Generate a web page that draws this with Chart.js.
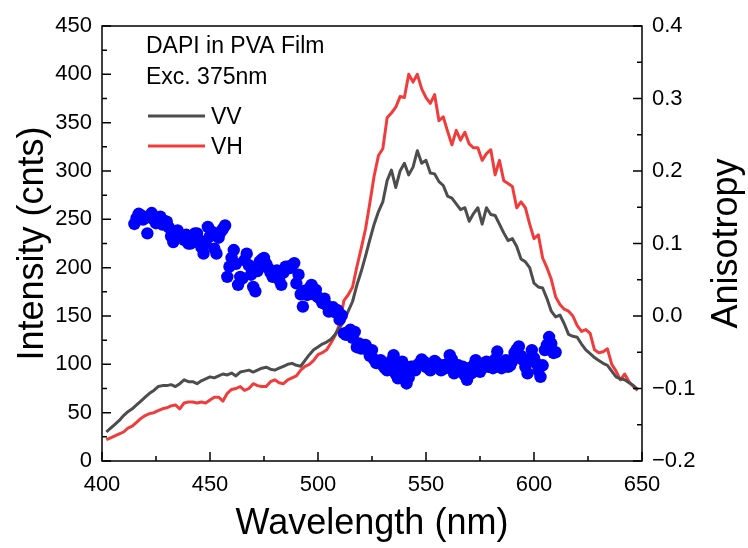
<!DOCTYPE html>
<html>
<head>
<meta charset="utf-8">
<script src="https://cdn.jsdelivr.net/npm/chart.js@4.4.1/dist/chart.umd.min.js"></script>
<style>
  html, body { margin: 0; padding: 0; background: #fff; }
  #chart { display: block; }
</style>
</head>
<body>
<canvas id="chart" width="748" height="548"></canvas>
<script>
// emission spectra (nm, counts)
const wavelength = [
  402, 404, 406, 408, 410, 412, 414, 416, 418, 420,
  422, 424, 426, 428, 430, 432, 434, 436, 438, 440,
  442, 444, 446, 448, 450, 452, 454, 456, 458, 460,
  462, 464, 466, 468, 470, 472, 474, 476, 478, 480,
  482, 484, 486, 488, 490, 492, 494, 496, 498, 500,
  502, 504, 506, 508, 510, 512, 514, 516, 518, 520,
  522, 524, 526, 528, 530, 532, 534, 536, 538, 540,
  542, 544, 546, 548, 550, 552, 554, 556, 558, 560,
  562, 564, 566, 568, 570, 572, 574, 576, 578, 580,
  582, 584, 586, 588, 590, 592, 594, 596, 598, 600,
  602, 604, 606, 608, 610, 612, 614, 616, 618, 620,
  622, 624, 626, 628, 630, 632, 634, 636, 638, 640,
  642, 644, 646, 648
];
const vv = [
  30, 34, 38, 42, 47, 51, 54, 58, 62, 66,
  70, 73, 77, 78, 78, 79, 77, 80, 84, 82,
  82, 80, 83, 85, 87, 86, 88, 90, 89, 91,
  88, 92, 93, 94, 92, 94, 96, 97, 95, 94,
  96, 98, 100, 101, 99, 98, 104, 110, 115, 118,
  121, 123, 126, 131, 138, 145, 155, 165, 182, 196,
  212, 229, 245, 258, 268, 290, 301, 283, 300, 308,
  296, 304, 321, 308, 311, 298, 297, 289, 285, 274,
  272, 266, 260, 262, 248, 256, 262, 245, 262, 255,
  254, 245, 236, 228, 230, 222, 209, 206, 200, 184,
  180, 179, 168, 155, 149, 151, 142, 131, 129, 128,
  121, 115, 111, 107, 104, 101, 99, 93, 87, 85,
  84, 81, 78, 74
];
const vh = [
  22, 24, 26, 28, 30, 34, 36, 40, 44, 47,
  49, 50, 52, 54, 55, 57, 58, 54, 60, 61,
  61, 60, 61, 60, 63, 66, 66, 62, 70, 74,
  75, 77, 73, 75, 80, 78, 77, 77, 82, 84,
  81, 80, 84, 86, 88, 94, 98, 100, 104, 110,
  112, 115, 122, 130, 142, 166, 172, 180, 201, 220,
  240, 267, 295, 316, 323, 355, 360, 366, 377, 376,
  400, 392, 400, 385, 376, 370, 379, 352, 356, 341,
  327, 342, 332, 340, 328, 324, 324, 311, 318, 322,
  296, 311, 290, 287, 284, 262, 268, 262, 245, 230,
  234, 210, 200, 188, 170, 162, 157, 155, 150, 140,
  134, 136, 132, 115, 112, 113, 116, 100, 93, 84,
  90, 82, 77, 73
];

// anisotropy points (right axis), 1 nm apart
const anisoWl = [
  415, 416, 417, 418, 419, 420, 421, 422, 423, 424,
  425, 426, 427, 428, 429, 430, 431, 432, 433, 434,
  435, 436, 437, 438, 439, 440, 441, 442, 443, 444,
  445, 446, 447, 448, 449, 450, 451, 452, 453, 454,
  455, 456, 457, 458, 459, 460, 461, 462, 463, 464,
  465, 466, 467, 468, 469, 470, 471, 472, 473, 474,
  475, 476, 477, 478, 479, 480, 481, 482, 483, 484,
  485, 486, 487, 488, 489, 490, 491, 492, 493, 494,
  495, 496, 497, 498, 499, 500, 501, 502, 503, 504,
  505, 506, 507, 508, 509, 510, 511, 512, 513, 514,
  515, 516, 517, 518, 519, 520, 521, 522, 523, 524,
  525, 526, 527, 528, 529, 530, 531, 532, 533, 534,
  535, 536, 537, 538, 539, 540, 541, 542, 543, 544,
  545, 546, 547, 548, 549, 550, 551, 552, 553, 554,
  555, 556, 557, 558, 559, 560, 561, 562, 563, 564,
  565, 566, 567, 568, 569, 570, 571, 572, 573, 574,
  575, 576, 577, 578, 579, 580, 581, 582, 583, 584,
  585, 586, 587, 588, 589, 590, 591, 592, 593, 594,
  595, 596, 597, 598, 599, 600, 601, 602, 603, 604,
  605, 606, 607, 608, 609, 610
];
const aniso = [
  0.127, 0.135, 0.141, 0.139, 0.133, 0.135, 0.114, 0.138, 0.142, 0.133,
  0.128, 0.135, 0.137, 0.126, 0.131, 0.130, 0.122, 0.110, 0.102, 0.115,
  0.118, 0.112, 0.109, 0.105, 0.112, 0.100, 0.100, 0.108, 0.114, 0.114,
  0.105, 0.095, 0.086, 0.100, 0.123, 0.110, 0.116, 0.093, 0.086, 0.108,
  0.116, 0.120, 0.125, 0.054, 0.068, 0.080, 0.091, 0.072, 0.043, 0.054,
  0.052, 0.077, 0.086, 0.070, 0.057, 0.040, 0.034, 0.062, 0.075, 0.078,
  0.080, 0.072, 0.066, 0.060, 0.054, 0.058, 0.063, 0.050, 0.043, 0.060,
  0.068, 0.068, 0.066, 0.070, 0.073, 0.045, 0.057, 0.030, 0.013, 0.035,
  0.029, 0.038, 0.043, 0.030, 0.036, 0.026, 0.024, 0.018, 0.024, 0.015,
  0.006, 0.010, 0.012, 0.005, 0.008, -0.005, 0.001, -0.024, -0.026, -0.022,
  -0.019, -0.030, -0.022, -0.043, -0.038, -0.045, -0.040, -0.040, -0.047, -0.055,
  -0.047, -0.060, -0.065, -0.063, -0.061, -0.068, -0.072, -0.075, -0.070, -0.062,
  -0.054, -0.080, -0.086, -0.072, -0.063, -0.080, -0.093, -0.085, -0.070, -0.070,
  -0.075, -0.068, -0.065, -0.060, -0.063, -0.070, -0.072, -0.075, -0.068, -0.062,
  -0.065, -0.070, -0.075, -0.068, -0.072, -0.066, -0.054, -0.060, -0.079, -0.072,
  -0.068, -0.075, -0.070, -0.082, -0.088, -0.072, -0.079, -0.068, -0.061, -0.070,
  -0.077, -0.072, -0.065, -0.063, -0.070, -0.068, -0.072, -0.060, -0.049, -0.068,
  -0.072, -0.065, -0.061, -0.070, -0.068, -0.062, -0.051, -0.046, -0.042, -0.055,
  -0.061, -0.070, -0.079, -0.060, -0.047, -0.058, -0.065, -0.075, -0.084, -0.068,
  -0.047, -0.040, -0.029, -0.038, -0.051, -0.050
];

const xTicks = [400, 450, 500, 550, 600, 650];
const note = ['DAPI in PVA Film', 'Exc. 375nm'];

const FONT = 'Arial, "Liberation Sans", sans-serif';

function pairs(xs, ys) {
    return xs.map((x, i) => ({x: x, y: ys[i]}));
}

function fmtAniso(v) {
    if (Math.abs(v) < 1e-9) return '0.0';
    return v.toFixed(1).replace('-', '\u2212');
}

// frame, inward ticks, notes, legend and right title
const decor = {
    id: 'decor',
    afterDraw(chart) {
        const {ctx, chartArea: a, scales} = chart;
        ctx.save();
        ctx.strokeStyle = '#000';
        ctx.lineWidth = 1.5;
        ctx.strokeRect(a.left, a.top, a.right - a.left, a.bottom - a.top);

        ctx.beginPath();
        for (let v = 400; v <= 650; v += 25) {
            const px = scales.x.getPixelForValue(v);
            const len = v % 50 === 0 ? 9 : 5;
            ctx.moveTo(px, a.bottom);
            ctx.lineTo(px, a.bottom - len);
        }
        for (let v = 0; v <= 450; v += 25) {
            const py = scales.y.getPixelForValue(v);
            const len = v % 50 === 0 ? 9 : 5;
            ctx.moveTo(a.left, py);
            ctx.lineTo(a.left + len, py);
        }
        for (let i = 0; i <= 12; i++) {
            const py = scales.y1.getPixelForValue(-0.2 + i * 0.05);
            const len = i % 2 === 0 ? 9 : 5;
            ctx.moveTo(a.right, py);
            ctx.lineTo(a.right - len, py);
        }
        ctx.stroke();

        ctx.fillStyle = '#000';
        ctx.font = '23px ' + FONT;
        ctx.textAlign = 'left';
        ctx.textBaseline = 'alphabetic';
        ctx.fillText(note[0], 146, 53);
        ctx.fillText(note[1], 146, 84);

        const legendRows = [{ds: chart.data.datasets[0], y: 116}, {ds: chart.data.datasets[1], y: 146}];
        legendRows.forEach(r => {
            ctx.strokeStyle = r.ds.borderColor;
            ctx.lineWidth = 3;
            ctx.beginPath();
            ctx.moveTo(148, r.y);
            ctx.lineTo(205, r.y);
            ctx.stroke();
            ctx.fillStyle = '#000';
            ctx.fillText(r.ds.label, 211, r.y + 8);
        });

        ctx.translate(727, (a.top + a.bottom) / 2);
        ctx.rotate(-Math.PI / 2);
        ctx.textAlign = 'center';
        ctx.textBaseline = 'middle';
        ctx.font = '36px ' + FONT;
        ctx.fillText('Anisotropy', 0, 0);
        ctx.restore();
    }
};

new Chart(document.getElementById('chart'), {
    type: 'line',
    data: {
        datasets: [
            {
                label: 'VV',
                data: pairs(wavelength, vv),
                borderColor: '#4d4d4d',
                borderWidth: 3,
                borderJoinStyle: 'round',
                pointRadius: 0,
                tension: 0,
                yAxisID: 'y',
                order: 2
            },
            {
                label: 'VH',
                data: pairs(wavelength, vh),
                borderColor: '#f23c3c',
                borderWidth: 3,
                borderJoinStyle: 'round',
                pointRadius: 0,
                tension: 0,
                yAxisID: 'y',
                order: 3
            },
            {
                type: 'scatter',
                label: 'r',
                data: pairs(anisoWl, aniso),
                backgroundColor: '#0000ff',
                borderWidth: 0,
                pointRadius: 6.2,
                showLine: false,
                yAxisID: 'y1',
                order: 1
            }
        ]
    },
    options: {
        responsive: false,
        animation: false,
        layout: {padding: {top: 26, left: 0, right: 0, bottom: 0}},
        plugins: {legend: {display: false}, tooltip: {enabled: false}},
        scales: {
            x: {
                type: 'linear',
                min: 400,
                max: 650,
                grid: {display: false, drawTicks: false},
                border: {display: false},
                afterBuildTicks: s => { s.ticks = xTicks.map(v => ({value: v})); },
                ticks: {font: {size: 22, family: FONT}, color: '#000', padding: 11, maxRotation: 0},
                title: {display: true, text: 'Wavelength (nm)', color: '#000',
                        font: {size: 36, family: FONT}, padding: {top: 0, bottom: 2}},
                afterFit: s => { s.height = 87; }
            },
            y: {
                position: 'left',
                min: 0,
                max: 450,
                grid: {display: false, drawTicks: false},
                border: {display: false},
                ticks: {stepSize: 50, font: {size: 22, family: FONT}, color: '#000', padding: 10},
                title: {display: true, text: 'Intensity (cnts)', color: '#000',
                        font: {size: 36, family: FONT}, padding: {top: 11, bottom: 0}},
                afterFit: s => { s.width = 102; }
            },
            y1: {
                position: 'right',
                min: -0.2,
                max: 0.4,
                grid: {display: false, drawTicks: false},
                border: {display: false},
                ticks: {stepSize: 0.1, font: {size: 22, family: FONT}, color: '#000', padding: 10,
                        callback: v => fmtAniso(v)},
                afterFit: s => { s.width = 106; }
            }
        }
    },
    plugins: [decor]
});
</script>
</body>
</html>
